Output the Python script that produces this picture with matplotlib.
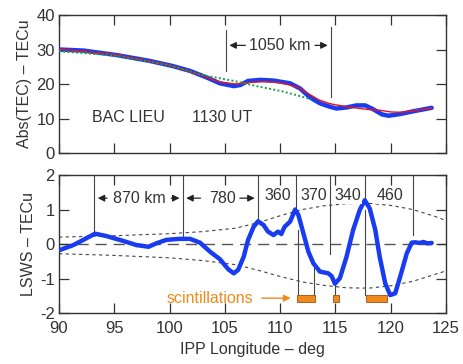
import matplotlib
matplotlib.use("Agg")
import matplotlib.pyplot as plt

plt.rcParams['font.family'] = ['Liberation Sans', 'DejaVu Sans']
plt.rcParams['axes.unicode_minus'] = False

# ---- top panel data ----
tec_lon = [90.1, 92.2, 95.2, 98.2, 100.3, 101.85, 103.35, 104.55, 105.8, 106.4, 107.1, 108.2,
           109.4, 110.9, 111.8, 112.7, 113.6, 114.5, 115.1, 116.0, 116.9, 117.7, 118.4, 119.2,
           119.8, 120.85, 122.05, 123.7]
tec_val = [30.0, 29.7, 28.4, 26.7, 25.2, 23.8, 21.9, 20.2, 19.4, 19.7, 20.9, 21.2,
           21.0, 20.2, 18.7, 16.1, 14.4, 13.4, 12.9, 13.2, 13.8, 13.8, 12.7, 11.2,
           10.8, 11.3, 12.1, 13.1]
fit_lon = [90.1, 95.0, 100.0, 103.0, 104.5, 106.0, 107.0, 108.5, 110.0, 111.5, 112.5, 113.5,
           114.5, 115.5, 116.5, 118.0, 119.0, 120.0, 121.0, 122.0, 123.7]
fit_val = [30.1, 28.6, 25.5, 22.4, 20.6, 20.0, 20.4, 20.7, 20.4, 19.2, 17.3, 15.4,
           14.3, 13.7, 13.2, 12.6, 12.4, 11.9, 11.8, 12.2, 13.0]
trend_lon = [90.0, 95.0, 100.0, 103.0, 105.8, 108.0, 110.3, 112.8]
trend_val = [29.5, 28.3, 25.4, 22.6, 20.9, 19.3, 17.8, 15.6]

# ---- bottom panel data ----
lsws_lon = [90.1, 91.3, 92.2, 93.25, 94.3, 95.8, 97.0, 98.1, 98.8, 99.7, 100.9, 101.85,
            102.75, 103.65, 104.55, 105.3, 105.8, 106.2, 106.7, 107.1, 107.6, 108.0, 108.5,
            108.9, 109.4, 109.8, 110.1, 110.4, 110.9, 111.35, 111.65, 112.1, 112.55, 113.0,
            113.6, 114.35, 114.65, 114.95, 115.4, 116.0, 116.6, 117.2, 117.65, 118.1, 118.6,
            119.0, 119.5, 119.95, 120.4, 120.85, 121.45, 121.9, 122.2, 122.6, 122.95, 123.3, 123.7]
lsws_val = [-0.17, -0.03, 0.12, 0.30, 0.23, 0.09, -0.03, -0.08, 0.02, 0.12, 0.15, 0.15,
            0.04, -0.22, -0.44, -0.73, -0.85, -0.75, -0.37, 0.12, 0.50, 0.66, 0.55,
            0.36, 0.26, 0.36, 0.29, 0.50, 0.65, 1.00, 0.84, 0.31, -0.22, -0.56,
            -0.80, -0.85, -0.93, -1.15, -0.99, -0.37, 0.41, 0.99, 1.27, 1.03, 0.41,
            -0.37, -1.14, -1.48, -1.43, -0.95, -0.27, 0.04, 0.05, 0.03, 0.06, 0.02, 0.03]
env_lon = [90, 95, 100, 103, 106, 108, 110, 112, 114, 116, 118, 120, 122, 124, 125]
env_up = [0.20, 0.24, 0.30, 0.36, 0.46, 0.62, 0.82, 1.00, 1.11, 1.17, 1.18, 1.12, 1.00, 0.80, 0.68]
env_lo = [-0.28, -0.33, -0.40, -0.48, -0.60, -0.76, -0.94, -1.10, -1.20, -1.27, -1.28, -1.21, -1.08, -0.88, -0.78]

scint_start = [111.55, 114.75, 117.75]
scint_end = [113.15, 115.35, 119.65]

fig = plt.figure(figsize=(4.63, 3.64), dpi=100)
ax1 = fig.add_axes([0.1274, 0.5797, 0.836, 0.379])
ax2 = fig.add_axes([0.1274, 0.1401, 0.836, 0.379])

txt = '#333333'
lc = '#444444'
fs = 11.5
for ax in (ax1, ax2):
    ax.set_xlim(90, 125)
    ax.tick_params(direction='in', top=True, right=True, length=7, width=0.9,
                   labelsize=12, colors='#333333')
    ax.tick_params(axis='x', pad=6)
    ax.tick_params(axis='y', pad=3)
    for s in ax.spines.values():
        s.set_color('#333333')
        s.set_linewidth(1.0)
    ax.set_xticks([90, 95, 100, 105, 110, 115, 120, 125])

# ---- top ----
ax1.set_ylim(0, 40)
ax1.set_yticks([0, 10, 20, 30, 40])
ax1.set_xticklabels([])
ax1.plot(tec_lon, tec_val, color='#1a3cf0', lw=3.2, solid_capstyle='round', zorder=3)
ax1.plot(fit_lon, fit_val, color='#e8141e', lw=1.0, zorder=4)
ax1.plot(trend_lon, trend_val, color='#1aa040', lw=1.4, ls=(0, (1, 1.2)), zorder=5)
ax1.plot([105.1, 105.1], [23.8, 35.7], color=lc, lw=0.8)
ax1.plot([114.6, 114.6], [16.3, 36.4], color=lc, lw=0.8)
ax1.text(110.0, 31.2, '1050 km', ha='center', va='center', fontsize=fs, color=txt)
ax1.annotate('', xy=(105.15, 31.2), xytext=(107.1, 31.2),
             arrowprops=dict(arrowstyle='-|>', color='#222222', lw=0.9, mutation_scale=10))
ax1.annotate('', xy=(114.55, 31.2), xytext=(112.9, 31.2),
             arrowprops=dict(arrowstyle='-|>', color='#222222', lw=0.9, mutation_scale=10))
ax1.text(93.0, 10.3, 'BAC LIEU', ha='left', va='center', fontsize=fs, color=txt)
ax1.text(102.0, 10.3, '1130 UT', ha='left', va='center', fontsize=fs, color=txt)
ax1.set_ylabel('Abs(TEC) – TECu', fontsize=fs, color=txt, labelpad=3)

# ---- bottom ----
ax2.set_ylim(-2, 2)
ax2.set_yticks([-2, -1, 0, 1, 2])
ax2.axhline(0, color='#555555', lw=1.0, ls=(0, (8, 5)), zorder=1)
ax2.plot(env_lon, env_up, color='#444444', lw=0.8, ls=(0, (3, 3)), zorder=1)
ax2.plot(env_lon, env_lo, color='#444444', lw=0.8, ls=(0, (3, 3)), zorder=1)
ax2.plot(lsws_lon, lsws_val, color='#1a3cf0', lw=3.2, solid_capstyle='round', zorder=3)

vlines = [(93.2, 0.3, 2), (101.2, 0.16, 2), (108.0, 0.65, 2), (111.4, 1.0, 2),
          (111.6, -1.48, 0.4), (113.1, -1.48, -0.7), (114.5, -0.3, 2), (115.0, -1.48, -1.15),
          (117.65, 1.27, 2), (117.7, -1.48, 1.0), (122.05, 0.25, 2)]
for xv, y0, y1 in vlines:
    ax2.plot([xv, xv], [y0, y1], color=lc, lw=0.8, zorder=2)

ly = 1.33
ax2.text(97.25, ly, '870 km', ha='center', va='center', fontsize=fs, color=txt)
for a, b in [(94.6, 93.25), (99.9, 101.15), (103.05, 101.25), (106.1, 107.95)]:
    ax2.annotate('', xy=(b, ly), xytext=(a, ly),
                 arrowprops=dict(arrowstyle='-|>', color='#222222', lw=0.9, mutation_scale=10))
ax2.text(104.75, ly, '780', ha='center', va='center', fontsize=fs, color=txt)
for xl, lab in [(109.75, '360'), (113.0, '370'), (116.1, '340'), (119.9, '460')]:
    ax2.text(xl, ly + 0.08, lab, ha='center', va='center', fontsize=fs, color=txt,
             bbox=dict(facecolor='white', edgecolor='none', pad=0.5))

orange = '#f08a1c'
ax2.text(107.6, -1.57, 'scintillations', ha='right', va='center', fontsize=fs, color=orange)
ax2.annotate('', xy=(111.2, -1.57), xytext=(108.1, -1.57),
             arrowprops=dict(arrowstyle='-|>', color=orange, lw=1.0, mutation_scale=10))
for s0, s1 in zip(scint_start, scint_end):
    ax2.bar((s0 + s1) / 2, 0.18, width=s1 - s0, bottom=-1.67, color=orange,
            edgecolor='#a05010', linewidth=0.6, zorder=4)

ax2.set_ylabel('LSWS – TECu', fontsize=fs, color=txt, labelpad=3)
ax2.set_xlabel('IPP Longitude – deg', fontsize=fs, color=txt, labelpad=4)

fig.savefig('out.png', dpi=100)
